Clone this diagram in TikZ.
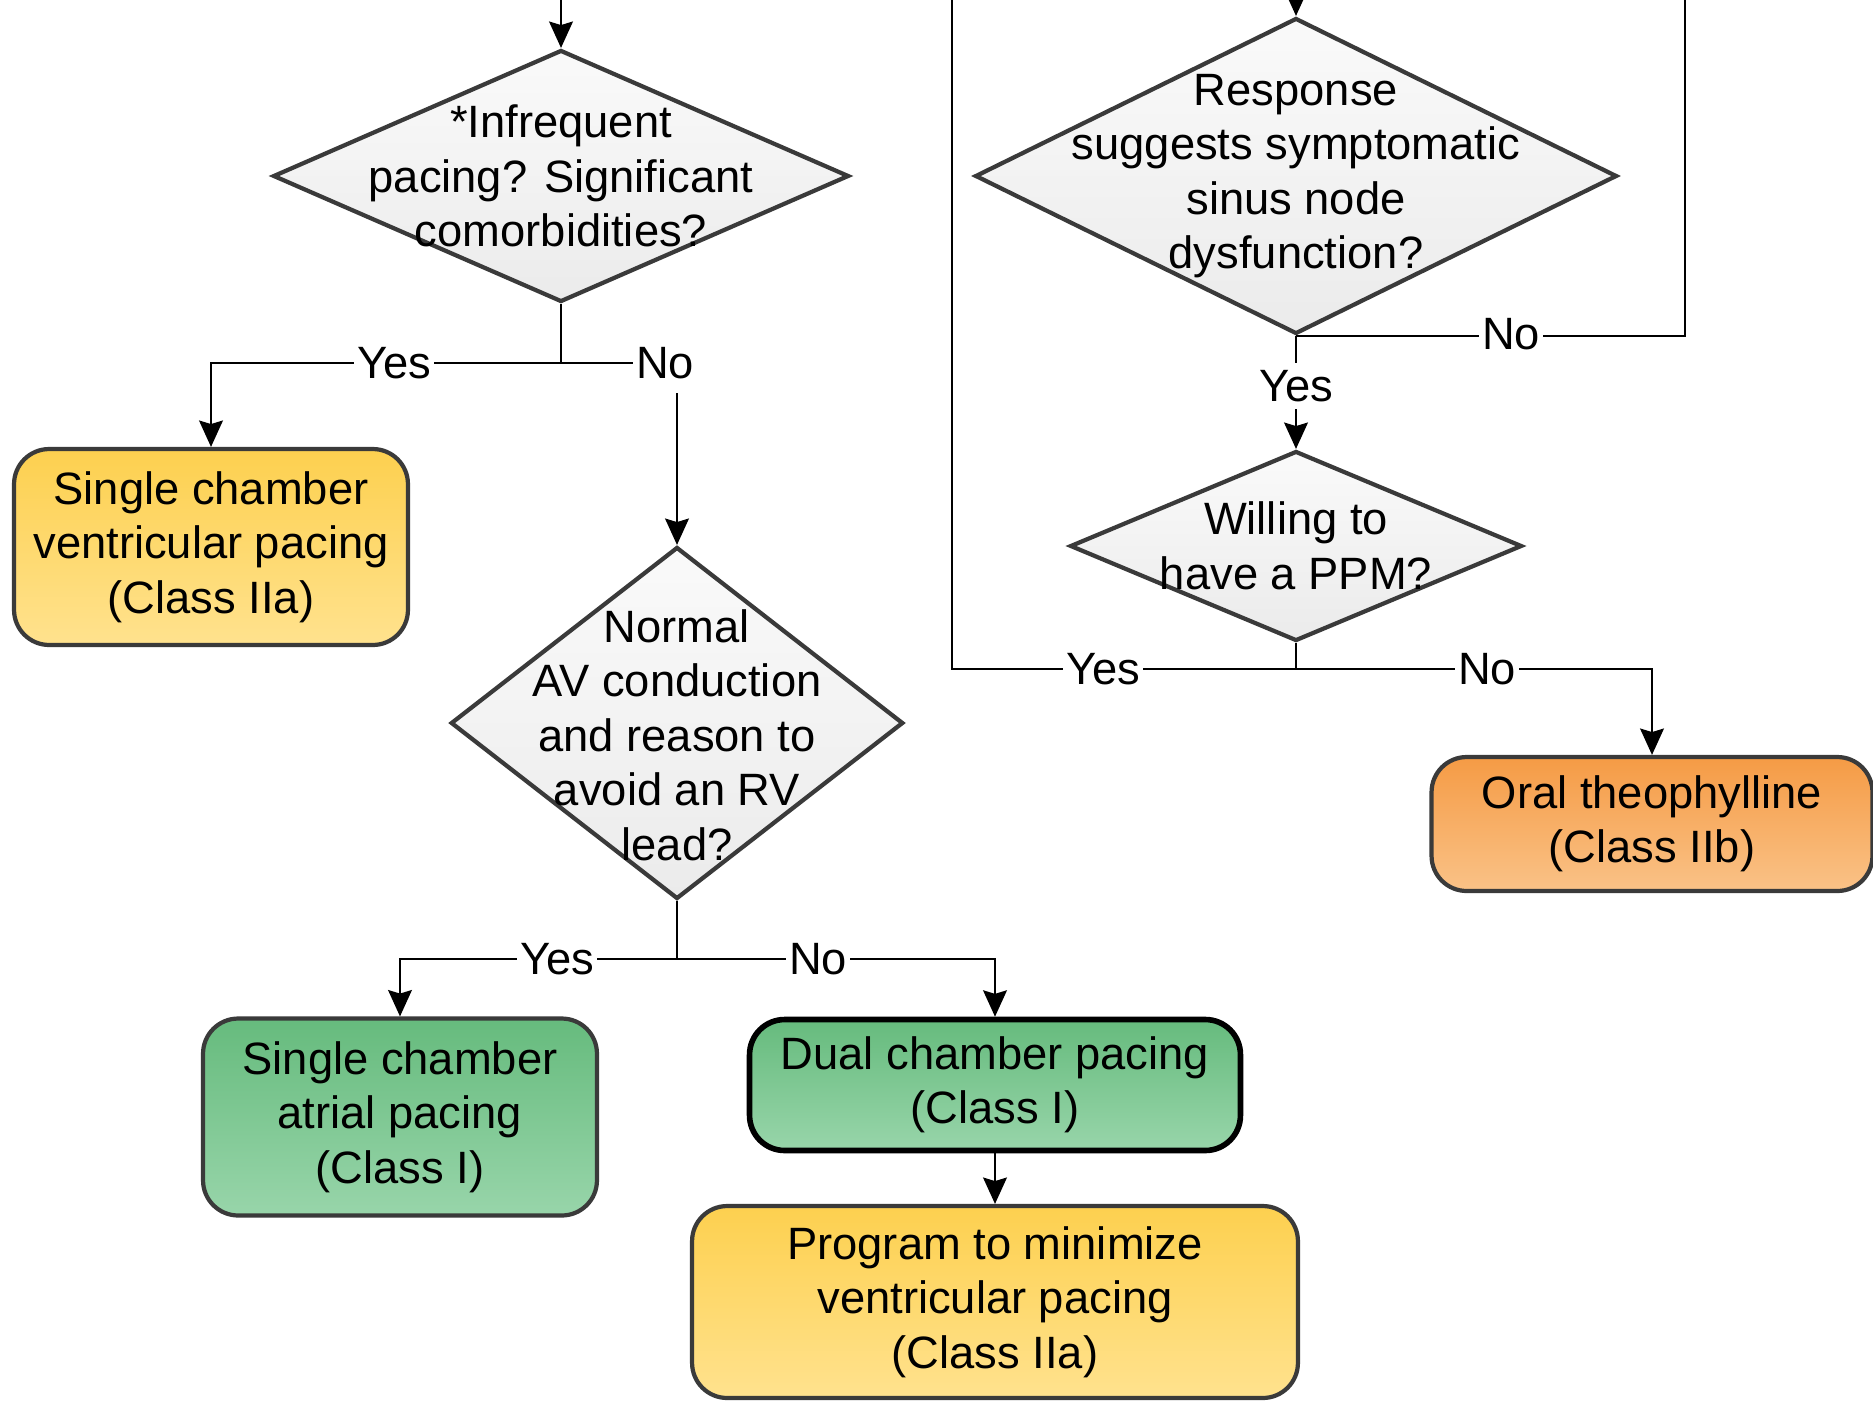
\documentclass[tikz,border=0pt]{standalone}
\usepackage{fontspec}
\setmainfont{Liberation Sans}
\usetikzlibrary{shapes.geometric,arrows.meta}
\definecolor{boxline}{HTML}{3A3A3A}
\definecolor{yelT}{HTML}{FDD04F}
\definecolor{yelB}{HTML}{FFE28E}
\definecolor{grnT}{HTML}{66BB7D}
\definecolor{grnB}{HTML}{98D5AA}
\definecolor{orgT}{HTML}{F59B45}
\definecolor{orgB}{HTML}{FAC287}
\definecolor{diaT}{HTML}{FAFAFA}
\definecolor{diaB}{HTML}{EBEBEB}
\begin{document}
\begin{tikzpicture}[x=0.02cm,y=-0.02cm,
  font=\fontsize{25.8}{31}\selectfont,
  box/.style={draw=boxline, line width=2.4pt, rounded corners=20pt, align=center, inner sep=0pt},
  ybox/.style={box, top color=yelT, bottom color=yelB},
  gbox/.style={box, top color=grnT, bottom color=grnB},
  obox/.style={box, top color=orgT, bottom color=orgB},
  dia/.style={diamond, draw=boxline, line width=2.4pt, inner sep=0pt, top color=diaT, bottom color=diaB},
  dtxt/.style={align=center, inner sep=0pt},
  ln/.style={line width=1.4pt, draw=black},
  arr/.style={ln, -{Stealth[length=15pt,width=13.5pt,inset=2pt]}},
  lbl/.style={fill=white, inner xsep=1.5pt, inner ysep=4pt}
]
\fill[white] (0,0) rectangle (1873,1404);
\useasboundingbox (0,0) rectangle (1873,1404);

% free ends at top
\coordinate (topA) at (561,0);
\coordinate (topB) at (1296,0);
\coordinate (loopL) at (952,0);
\coordinate (loopR) at (1685,0);
\coordinate (j1) at (561,363);
\coordinate (j2) at (677,959);
\coordinate (j4) at (1296,669);

% left column
\node[dia, minimum width=11.52cm, minimum height=5.04cm] (d1) at (561,176) {};
\node[dtxt] (d1t) at (561,176) {*Infrequent\\pacing? Significant\\comorbidities?};

\node[ybox, minimum width=7.88cm, minimum height=3.92cm] (b1) at (211,547) {Single chamber\\ventricular pacing\\(Class IIa)};

\node[dia, minimum width=9.05cm, minimum height=7.04cm] (d2) at (677,723) {};
\node[dtxt] (d2t) at (677,735) {Normal\\AV conduction\\and reason to\\avoid an RV\\lead?};

\node[gbox, minimum width=7.88cm, minimum height=3.94cm] (b2) at (400,1117) {Single chamber\\atrial pacing\\(Class I)};
\node[gbox, draw=black, line width=3.2pt, minimum width=9.82cm, minimum height=2.62cm] (b3) at (995,1085) {Dual chamber pacing\\(Class I)};
\node[ybox, minimum width=12.12cm, minimum height=3.84cm] (b4) at (995,1302) {Program to minimize\\ventricular pacing\\(Class IIa)};

% right column
\node[dia, minimum width=12.84cm, minimum height=6.32cm] (d3) at (1296,176) {};
\node[dtxt] (d3t) at (1296,176) {Response\\suggests symptomatic\\sinus node\\dysfunction?};

\node[dia, minimum width=9.04cm, minimum height=3.8cm] (d4) at (1296,546) {};
\node[dtxt] (d4t) at (1296,546) {Willing to\\have a PPM?};

\node[obox, minimum width=8.82cm, minimum height=2.68cm] (b5) at (1652,824) {Oral theophylline\\(Class IIb)};

% connectors
\draw[arr] (topA) -- (d1.north);
\draw[ln] (d1.south) -- (j1);
\draw[arr] (j1) -| (b1.north);
\draw[arr] (j1) -| (d2.north);
\draw[ln] (d2.south) -- (j2);
\draw[arr] (j2) -| (b2.north);
\draw[arr] (j2) -| (b3.north);
\draw[arr] (b3.south) -- (b4.north);

\draw[arr] (topB) -- (d3.north);
\draw[ln] (d3.south) -| (loopR);
\draw[arr] (d3.south) -- (d4.north);
\draw[ln] (d4.south) -- (j4);
\draw[ln] (j4) -| (loopL);
\draw[arr] (j4) -| (b5.north);

% labels
\node[lbl] (l1y) at (394,363) {Yes};
\node[lbl, inner ysep=8pt] (l1n) at (665,363) {No};
\node[lbl] (l2y) at (557,959) {Yes};
\node[lbl] (l2n) at (818,959) {No};
\node[lbl] (l3n) at (1511,334) {No};
\node[lbl] (l3y) at (1296,386) {Yes};
\node[lbl] (l4y) at (1103,669) {Yes};
\node[lbl] (l4n) at (1487,669) {No};
\end{tikzpicture}
\end{document}
